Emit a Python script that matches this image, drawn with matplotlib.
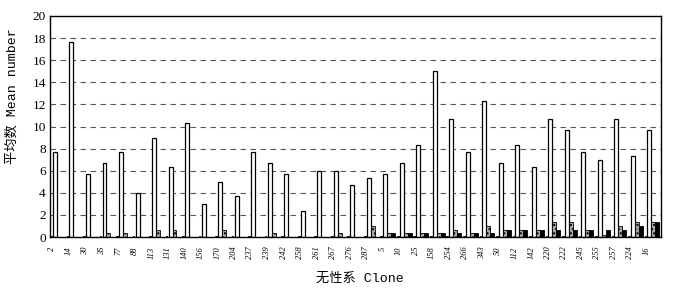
import matplotlib.pyplot as plt
import numpy as np

# clone labels on the x axis
clones = ['2', '14', '30', '35', '77', '88', '113', '131', '140', '156', '170',
          '204', '237', '239', '242', '258', '261', '267', '276', '287',
          '5', '10', '25', '158', '254', '266', '343', '50', '112', '142',
          '220', '222', '245', '255', '257', '224', '16']

# four series per clone
tiny_vals = [0.1] * len(clones)
white_vals = [7.67, 17.67, 5.67, 6.67, 7.67, 4.0, 9.0, 6.33, 10.33, 3.0, 5.0,
              3.67, 7.67, 6.67, 5.67, 2.33, 6.0, 6.0, 4.67, 5.33,
              5.67, 6.67, 8.33, 15.0, 10.67, 7.67, 12.33, 6.67, 8.33, 6.33,
              10.67, 9.67, 7.67, 7.0, 10.67, 7.33, 9.67]
gray_vals = [0, 0, 0, 0.33, 0.33, 0, 0.67, 0.67, 0, 0, 0.67,
             0, 0, 0.33, 0, 0, 0, 0.33, 0, 1.0,
             0.33, 0.33, 0.33, 0.33, 0.67, 0.33, 1.0, 0.67, 0.67, 0.67,
             1.33, 1.33, 0.67, 0.2, 1.0, 1.33, 1.33]
black_vals = [0, 0, 0, 0, 0, 0, 0, 0, 0, 0, 0,
              0, 0, 0, 0, 0, 0, 0, 0, 0,
              0.33, 0.33, 0.33, 0.33, 0.33, 0.33, 0.33, 0.67, 0.67, 0.67,
              0.67, 0.67, 0.67, 0.67, 0.67, 1.0, 1.33]

yticks = [0, 2, 4, 6, 8, 10, 12, 14, 16, 18, 20]

fig = plt.figure(figsize=(6.78, 2.90), dpi=100)
ax = fig.add_axes([50 / 678, 1 - 237 / 290, 611 / 678, 221 / 290])

ind = np.arange(len(clones))
width = 0.24

# grid first so bars sit on top
for y in yticks[1:-1]:
    ax.axhline(y, color='#555555', linestyle=(0, (5, 4)), linewidth=0.8, zorder=0)

ax.bar(ind + 0.06, tiny_vals, 0.1, color='black', edgecolor='black', linewidth=0.6, zorder=2)
ax.bar(ind + 0.30, white_vals, width, color='white', edgecolor='black', linewidth=0.9, zorder=2)
ax.bar(ind + 0.54, gray_vals, width, color='#a8a8a8', edgecolor='black', linewidth=0.6,
       hatch='....', zorder=2)
ax.bar(ind + 0.78, black_vals, width, color='black', edgecolor='black', linewidth=0.6, zorder=2)

ax.set_xlim(0, len(clones))
ax.set_ylim(0, 20)
ax.set_yticks(yticks)
ax.set_yticklabels([str(v) for v in yticks], family='Liberation Serif', fontsize=9.5)
ax.set_xticks(ind + 0.14)
ax.set_xticklabels(clones, rotation=90, family='Liberation Serif', style='italic',
                   fontsize=6, va='top', ha='center')
ax.tick_params(axis='both', length=0)
ax.tick_params(axis='x', pad=7)
ax.tick_params(axis='y', pad=3)

for s in ax.spines.values():
    s.set_linewidth(1.0)
    s.set_color('black')

fig.text(12 / 678, 1 - 96 / 290, '平均数 Mean number', rotation=90, ha='center', va='center',
         family=['Liberation Mono', 'Noto Sans CJK SC'], fontsize=9.5)
fig.text(360 / 678, 1 - 279 / 290, '无性系 Clone', ha='center', va='center',
         family=['Liberation Mono', 'Noto Sans CJK SC'], fontsize=9.5)

fig.savefig('out.png', dpi=100)
